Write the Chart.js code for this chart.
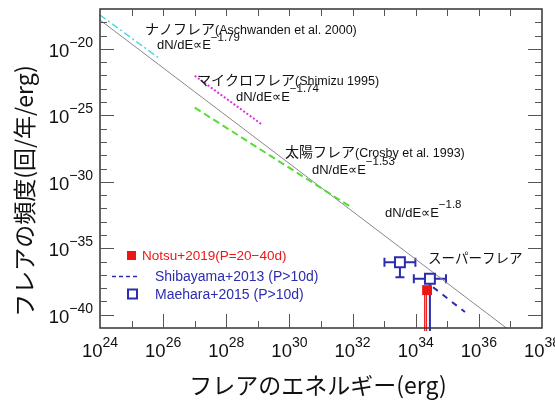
<!DOCTYPE html>
<html>
<head>
<meta charset="utf-8">
<script src="https://cdn.jsdelivr.net/npm/chart.js@4.4.1/dist/chart.umd.min.js"></script>
<style>
  html, body { margin: 0; padding: 0; background: #fff; }
</style>
</head>
<body>
<canvas id="flareChart" width="555" height="402"></canvas>
<script>
// every value is log10: energy in erg, frequency in 1/yr/erg
const xLabelExps = [24, 26, 28, 30, 32, 34, 36, 38];
const yLabelExps = [-20, -25, -30, -35, -40];

// power-law fits (two end points each)
const fitE = [24, 36.9];            // dN/dE ∝ E^-1.8
const fitN = [-17.83, -41.05];
const nanoE = [24, 25.9];           // Aschwanden et al. 2000
const nanoN = [-17.45, -20.75];
const microE = [27.0, 29.13];       // Shimizu 1995
const microN = [-22.02, -25.69];
const solarE = [27.0, 32.0];        // Crosby et al. 1993
const solarN = [-24.42, -31.98];
const shibaE = [34.55, 35.56];      // Shibayama+2013
const shibaN = [-37.93, -39.8];

// Maehara+2015 points with errors
const maeharaE = [33.50, 34.45];
const maeharaN = [-36.05, -37.29];
const maeharaEErr = [0.49, 0.51];
const maeharaNLow = [-37.18, -42];

// Notsu+2019
const notsuE = [34.36];
const notsuN = [-38.15];
const notsuNLow = [-42];

const BLUE = '#2c2cae';
const RED = '#ee1515';
const JP = '"Noto Sans CJK JP", sans-serif';
const LAT = '"Liberation Sans", Arial, sans-serif';

const pts = (xs, ys) => xs.map((x, i) => ({ x: x, y: ys[i] }));

function runsWidth(ctx, parts) {
  let w = 0;
  parts.forEach(p => { ctx.font = p[1]; w += ctx.measureText(p[0]).width; });
  return w;
}
function drawRuns(ctx, x, y, parts) {
  let cx = x;
  parts.forEach(p => {
    ctx.font = p[1];
    ctx.fillText(p[0], cx, y - (p[2] || 0));
    cx += ctx.measureText(p[0]).width;
  });
}
function powParts(exp) {
  const s = exp < 0 ? '\u2212' + (-exp) : String(exp);
  return [['10', '18.5px ' + LAT, 0], [s, '14px ' + LAT, 10]];
}

const decorations = {
  id: 'decorations',
  beforeDatasetsDraw(chart) {
    const ctx = chart.ctx, xs = chart.scales.x, ys = chart.scales.y, a = chart.chartArea;
    ctx.save();
    ctx.beginPath();
    ctx.rect(a.left, a.top, a.right - a.left, a.bottom - a.top + 3);
    ctx.clip();
    // Maehara error bars
    ctx.strokeStyle = BLUE;
    ctx.lineWidth = 2;
    maeharaE.forEach((e, i) => {
      const px = xs.getPixelForValue(e), py = ys.getPixelForValue(maeharaN[i]);
      const x0 = xs.getPixelForValue(e - maeharaEErr[i]), x1 = xs.getPixelForValue(e + maeharaEErr[i]);
      const yl = ys.getPixelForValue(maeharaNLow[i]);
      ctx.beginPath();
      ctx.moveTo(x0, py); ctx.lineTo(x1, py);
      ctx.moveTo(x0, py - 4.5); ctx.lineTo(x0, py + 4.5);
      ctx.moveTo(x1, py - 4.5); ctx.lineTo(x1, py + 4.5);
      ctx.moveTo(px, py); ctx.lineTo(px, yl);
      if (yl < a.bottom) { ctx.moveTo(px - 4.5, yl); ctx.lineTo(px + 4.5, yl); }
      ctx.stroke();
    });
    // Notsu lower limit line
    notsuE.forEach((e, i) => {
      const px = xs.getPixelForValue(e) - 1.5, py = ys.getPixelForValue(notsuN[i]);
      const yl = ys.getPixelForValue(notsuNLow[i]);
      ctx.strokeStyle = RED;
      ctx.lineWidth = 3;
      ctx.beginPath(); ctx.moveTo(px, py); ctx.lineTo(px, yl); ctx.stroke();
      ctx.strokeStyle = '#f7a0a0';
      ctx.lineWidth = 1;
      ctx.beginPath(); ctx.moveTo(px, py); ctx.lineTo(px, yl); ctx.stroke();
    });
    ctx.restore();
  },
  afterDraw(chart) {
    const ctx = chart.ctx, xs = chart.scales.x, ys = chart.scales.y, a = chart.chartArea;
    ctx.save();
    // frame
    ctx.strokeStyle = '#333';
    ctx.lineWidth = 1.5;
    ctx.strokeRect(a.left, a.top, a.right - a.left, a.bottom - a.top);
    // ticks
    ctx.lineWidth = 1;
    ctx.strokeStyle = '#555';
    ctx.beginPath();
    for (let e = 25; e < 38; e++) {
      const px = Math.round(xs.getPixelForValue(e)) + 0.5;
      const len = e % 2 === 0 ? 14 : 7;
      ctx.moveTo(px, a.bottom); ctx.lineTo(px, a.bottom - len);
      ctx.moveTo(px, a.top); ctx.lineTo(px, a.top + 7);
    }
    for (let n = -40; n <= -18; n++) {
      const py = Math.round(ys.getPixelForValue(n)) + 0.5;
      const len = n % 5 === 0 ? 14 : 7;
      ctx.moveTo(a.left, py); ctx.lineTo(a.left + len, py);
      ctx.moveTo(a.right, py); ctx.lineTo(a.right - len, py);
    }
    ctx.stroke();

    // tick labels
    ctx.fillStyle = '#111';
    ctx.textBaseline = 'alphabetic';
    ctx.textAlign = 'left';
    xLabelExps.forEach(e => {
      const parts = powParts(e);
      const w = runsWidth(ctx, parts);
      drawRuns(ctx, xs.getPixelForValue(e) - w / 2, 357, parts);
    });
    yLabelExps.forEach(n => {
      const parts = powParts(n);
      const w = runsWidth(ctx, parts);
      drawRuns(ctx, 93 - w, ys.getPixelForValue(n) + 8, parts);
    });

    // axis titles
    ctx.font = '23px ' + JP;
    ctx.textAlign = 'center';
    ctx.textBaseline = 'middle';
    ctx.fillText('フレアのエネルギー(erg)', 318, 385);
    ctx.save();
    ctx.translate(24, 191);
    ctx.rotate(-Math.PI / 2);
    ctx.fillText('フレアの頻度(回/年/erg)', 0, 0);
    ctx.restore();

    // annotations
    ctx.textAlign = 'left';
    ctx.textBaseline = 'alphabetic';
    ctx.fillStyle = '#111';
    const jp = '14px ' + JP, lat = '12.5px ' + LAT, eq = '13px ' + LAT, sup = '11.5px ' + LAT;
    drawRuns(ctx, 145, 34, [['ナノフレア', jp], ['(Aschwanden et al. 2000)', lat]]);
    drawRuns(ctx, 157, 49, [['dN/dE\u221DE', eq], ['\u22121.79', sup, 8]]);
    drawRuns(ctx, 197, 85, [['マイクロフレア', jp], ['(Shimizu 1995)', lat]]);
    drawRuns(ctx, 236, 101, [['dN/dE\u221DE', eq], ['\u22121.74', sup, 9]]);
    drawRuns(ctx, 285, 157, [['太陽フレア', jp], ['(Crosby et al. 1993)', lat]]);
    drawRuns(ctx, 312, 174, [['dN/dE\u221DE', eq], ['\u22121.53', sup, 9]]);
    drawRuns(ctx, 385, 217, [['dN/dE\u221DE', eq], ['\u22121.8', sup, 9]]);
    drawRuns(ctx, 428, 263, [['スーパーフレア', '13.5px ' + JP]]);

    // legend
    ctx.fillStyle = RED;
    ctx.fillRect(127, 251, 9, 9);
    ctx.font = '13.5px ' + LAT;
    ctx.fillText('Notsu+2019(P=20\u221240d)', 142, 260);
    ctx.strokeStyle = BLUE;
    ctx.lineWidth = 1.5;
    ctx.setLineDash([4, 3]);
    ctx.beginPath(); ctx.moveTo(112, 276.5); ctx.lineTo(138, 276.5); ctx.stroke();
    ctx.setLineDash([]);
    ctx.lineWidth = 2;
    ctx.strokeRect(128, 289.5, 9, 9);
    ctx.fillStyle = BLUE;
    ctx.font = '14px ' + LAT;
    ctx.fillText('Shibayama+2013 (P>10d)', 155, 281);
    ctx.fillText('Maehara+2015 (P>10d)', 155, 299);
    ctx.restore();
  }
};

const lineSet = (xs, ys, color, width, dash) => ({
  data: pts(xs, ys), showLine: true, pointRadius: 0,
  borderColor: color, borderWidth: width, borderDash: dash, fill: false
});

new Chart(document.getElementById('flareChart'), {
  type: 'scatter',
  data: {
    datasets: [
      { data: pts(notsuE, notsuN), pointStyle: 'rect', pointRadius: 7,
        backgroundColor: RED, borderColor: RED, borderWidth: 0 },
      { data: pts(maeharaE, maeharaN), pointStyle: 'rect', pointRadius: 7,
        backgroundColor: '#fff', borderColor: BLUE, borderWidth: 2 },
      lineSet(shibaE, shibaN, BLUE, 2, [6, 6]),
      lineSet(nanoE, nanoN, '#4fd8ea', 1.5, [7, 3, 2, 3]),
      lineSet(microE, microN, '#dd33dd', 2, [2, 2]),
      lineSet(solarE, solarN, '#55dd33', 2, [7, 4]),
      lineSet(fitE, fitN, '#888', 1, [])
    ]
  },
  options: {
    responsive: false,
    animation: false,
    events: [],
    layout: { padding: { left: 100, right: 13, top: 8, bottom: 74 } },
    plugins: { legend: { display: false }, tooltip: { enabled: false } },
    scales: {
      x: { type: 'linear', min: 24, max: 38, display: false },
      y: { type: 'linear', min: -41, max: -17, display: false }
    }
  },
  plugins: [decorations]
});
</script>
</body>
</html>
